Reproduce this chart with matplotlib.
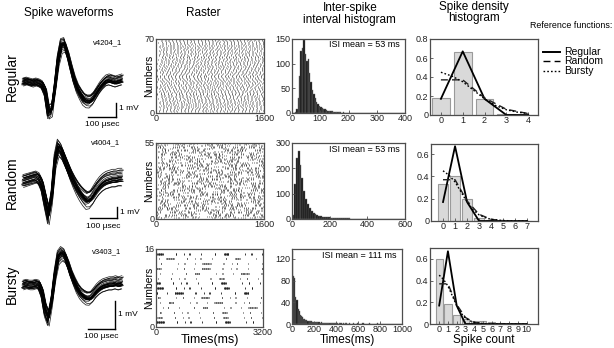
import numpy as np
import matplotlib
matplotlib.use('Agg')
import matplotlib.pyplot as plt

plt.rcParams['font.family'] = ['Liberation Sans', 'DejaVu Sans']

W, H = 614, 348

# ------------------------------------------------------------------ data
row_names = ['Regular', 'Random', 'Bursty']
unit_ids = ['v4204_1', 'v4004_1', 'v3403_1']

# mean spike waveform templates (32 samples, displacement in display units)
wave_regular = [0, 1, 0, -1, 0, -1, -3, -10, -30, -28, -5, 22, 37, 38, 28, 15,
                3, -6, -12, -17, -19, -19, -16, -11, -6, -2, 1, 2, 1, 0, 1, 2]
wave_random = [0, 1, 2, 3, 4, 2, -5, -20, -34, -15, 20, 34, 30, 22, 14, 6,
               -1, -7, -12, -16, -19, -18, -14, -9, -5, -2, 0, 1, 2, 2, 3, 3]
wave_bursty = [0, 1, 0, 0, 1, 0, -8, -25, -33, -15, 10, 28, 32, 30, 22, 12,
               4, -3, -8, -11, -13, -13, -10, -6, -3, -1, 0, 1, 1, 2, 1, 2]
# per-trace variability of the overlaid waveforms
trace_amp = [1.0, 0.92, 1.08, 0.97, 1.12, 0.88, 1.03, 0.95, 1.06, 0.90, 1.10, 0.99,
             0.94, 1.05, 0.86, 1.14, 1.01, 0.93, 1.07, 0.96, 1.09, 0.91, 1.04, 0.98, 1.02]
trace_off = [0, 2, -2, 1, -3, 3, -1, 2, -2, 4, -4, 1, -1, 3, -3, 0, 2, -2, 1, -1,
             3, -3, 0, 2, -2]
trace_tilt = [0, -3, 2, 4, -2, 1, -4, 3, 0, -1, 5, -3, 2, -5, 1, 3, -2, 4, -1, 0,
              -3, 2, 6, -4, 1]
trace_shift = [0, 0.2, -0.2, 0.3, -0.3, 0.1, -0.1, 0.4, -0.4, 0, 0.2, -0.2, 0.1,
               -0.1, 0.3, -0.3, 0, 0.15, -0.15, 0.25, -0.25, 0.05, -0.05, 0.35, -0.35]
row_spread = [1.0, 1.6, 1.2]

# raster: interval patterns (ms)
raster_rows = [70, 55, 15]
raster_ymax = [70, 55, 16]
raster_xmax = [1600, 1600, 3200]
isi_pattern_regular = [46, 58, 51, 63, 44, 55, 49, 60, 52, 47, 57, 41, 66, 50, 54,
                       48, 61, 45, 56, 53, 43, 59, 50, 64, 47, 52, 58, 49, 55, 62]
isi_pattern_random = [12, 25, 31, 8, 45, 150, 22, 35, 18, 60, 28, 95, 15, 33, 40,
                      210, 26, 19, 70, 30, 11, 48, 120, 24, 36, 55, 17, 29, 85, 21,
                      38, 14, 65, 27, 300, 32, 20, 42, 16, 75]
isi_pattern_bursty = [20, 15, 25, 18, 22, 16, 24, 19, 21, 17, 23, 20, 380, 12, 240,
                      150, 18, 330, 420, 14, 260, 22, 16, 19, 24, 18, 21, 17, 500,
                      190, 13, 310, 220]

# ISI histograms (counts)
isi_bin_width = [5, 10, 10]
isi_hist_regular = [0, 0, 2, 8, 30, 75, 125, 132, 148, 120, 105, 110, 82, 62, 47, 38,
                    30, 23, 18, 15, 12, 11, 9, 8, 6, 5, 5, 4, 4, 3, 3, 2, 3, 2, 2, 1,
                    2, 1, 1, 1, 1, 0, 1, 1, 0, 1, 0, 0, 1, 0, 1, 0, 0, 0, 1, 0, 0, 0,
                    0, 1, 0, 0, 0, 0, 0, 0, 1, 0, 0, 0, 0, 0, 0, 0, 0, 0, 0, 0, 0, 0]
isi_hist_random = [15, 140, 240, 270, 215, 160, 110, 80, 58, 42, 32, 25, 20, 16, 13,
                   11, 9, 8, 7, 6, 5, 5, 4, 4, 3, 3, 3, 2, 2, 2, 2, 1, 1, 1, 1, 1, 1,
                   0, 1, 0, 1, 0, 0, 1, 0, 0, 0, 1, 0, 0, 0, 0, 0, 0, 0, 0, 0, 0, 0, 0]
isi_hist_bursty = [135, 88, 85, 50, 45, 27, 24, 17, 14, 12, 10, 9, 8, 7, 6, 6, 5, 5,
                   4, 4, 4, 3, 3, 3, 3, 2, 3, 2, 2, 2, 2, 2, 1, 2, 1, 1, 1, 2, 1, 1,
                   1, 1, 0, 1, 1, 0, 1, 0, 1, 1, 0, 0, 1, 0, 0, 1, 0, 0, 0, 1, 0, 0,
                   0, 0, 1, 0, 0, 0, 0, 0, 1, 0, 0, 0, 0, 0, 0, 1, 0, 0, 0, 0, 0, 0,
                   0, 0, 0, 0, 0, 0, 0, 0, 0, 0, 0, 0, 0, 0, 0, 0]
isi_means = [53, 53, 111]
isi_xmax = [400, 600, 1000]
isi_xticks = [[0, 100, 200, 300, 400], [0, 200, 400, 600], [0, 200, 400, 600, 800, 1000]]
isi_ymax = [150, 300, 138]
isi_yticks = [[0, 50, 100, 150], [0, 100, 200, 300], [0, 40, 80, 120]]

# spike density histograms
density_regular = [0.18, 0.66, 0.17, 0.01, 0.005]
density_random = [0.33, 0.40, 0.20, 0.03, 0.01, 0.003, 0.001, 0.001]
density_bursty = [0.60, 0.18, 0.085, 0.05, 0.03, 0.025, 0.018, 0.005, 0.003, 0.002, 0.002]
density_ymax = [0.8, 0.69, 0.70]
density_yticks = [[0, 0.2, 0.4, 0.6, 0.8], [0, 0.2, 0.4, 0.6], [0, 0.2, 0.4, 0.6]]
density_xlim = [(-0.5, 4.45), (-1.0, 7.9), (-1.05, 11.3)]

# reference functions
ref_counts = [0, 1, 2, 3, 4, 5, 6, 7, 8, 9, 10]
ref_regular = [0.17, 0.67, 0.17, 0, 0, 0, 0, 0, 0, 0, 0]
ref_random = [0.37, 0.37, 0.18, 0.06, 0.015, 0.003, 0.0005, 0.0001, 0, 0, 0]
ref_bursty_x = [0, 0.5, 1, 1.5, 2, 2.5, 3, 3.5, 4, 5, 6, 7, 8, 9, 10]
ref_bursty = [0.45, 0.41, 0.35, 0.26, 0.17, 0.10, 0.055, 0.03, 0.015, 0.004, 0.001,
              0, 0, 0, 0]

# ------------------------------------------------------------------ figure
fig = plt.figure(figsize=(W / 100, H / 100), dpi=100)
ov = fig.add_axes([0, 0, 1, 1])
ov.set_xlim(0, W)
ov.set_ylim(H, 0)
ov.axis('off')

SP = '#4d4d4d'


def px_axes(l, t, r, b):
    return fig.add_axes([l / W, 1 - b / H, (r - l) / W, (b - t) / H])


def style(ax):
    for s in ax.spines.values():
        s.set_color(SP)
        s.set_linewidth(0.9)
    ax.tick_params(direction='in', length=2, width=0.6, color=SP, labelsize=6.5,
                   pad=1.0, labelcolor='#222222')


# titles
ov.text(69, 13, 'Spike waveforms', ha='center', va='center', fontsize=8.5)
ov.text(203, 13, 'Raster', ha='center', va='center', fontsize=8.5)
ov.text(350, 8, 'Inter-spike', ha='center', va='center', fontsize=8.5)
ov.text(349, 20.5, 'interval histogram', ha='center', va='center', fontsize=8.5)
ov.text(474, 7, 'Spike density', ha='center', va='center', fontsize=8.5)
ov.text(474, 18.5, 'histogram', ha='center', va='center', fontsize=8.5)

# legend
ov.text(612, 25, 'Reference functions:', ha='right', va='center', fontsize=6.4)
ov.plot([543, 560], [52, 52], color='black', lw=1.4, ls='-')
ov.plot([543, 560], [61, 61], color='black', lw=1.0, ls=(0, (5, 3)))
ov.plot([543, 560], [71, 71], color='black', lw=1.0, ls=(0, (1.2, 1.5)))
ov.text(564, 52, 'Regular', ha='left', va='center', fontsize=7.5)
ov.text(564, 61, 'Random', ha='left', va='center', fontsize=7.5)
ov.text(564, 71, 'Bursty', ha='left', va='center', fontsize=7.5)

# ------------------------------------------------------------------ waveforms
waves = [wave_regular, wave_random, wave_bursty]
base_y = [82, 181, 285]
label_y = [77, 183, 284]
id_pos = [(108, 43), (106, 143), (107, 252)]
vbar = [(116, 103, 117), (117, 207, 218), (115, 301, 329)]
hbar_x0 = [88, 90, 88]
mv_y = [108, 213, 315]
us_y = [125, 227, 336]
samples = np.arange(32)
late = np.clip((samples - 14) / 8.0, 0, 1)
for i in range(3):
    tmpl = np.array(waves[i], dtype=float)
    for a, o, s, tl in zip(trace_amp, trace_off, trace_shift, trace_tilt):
        xs = 23 + (samples + s) * (99 / 31)
        ys = base_y[i] - (tmpl * a + o * row_spread[i] + tl * late * row_spread[i])
        ov.plot(xs, ys, color='black', lw=0.55, alpha=0.85)
    ov.text(12, label_y[i], row_names[i], rotation=90, ha='center', va='center',
            fontsize=10)
    ov.text(id_pos[i][0], id_pos[i][1], unit_ids[i], ha='center', va='center',
            fontsize=5.5)
    vx, vt, vb = vbar[i]
    ov.plot([vx, vx], [vt, vb], color='black', lw=1.0)
    ov.plot([hbar_x0[i], vx], [vb, vb], color='black', lw=1.0)
    ov.text(vx + 3, mv_y[i], '1 mV', ha='left', va='center', fontsize=6)
    ov.text((hbar_x0[i] + vx) / 2, us_y[i], '100 µsec', ha='center', va='center',
            fontsize=6)

# ------------------------------------------------------------------ rasters
patterns = [isi_pattern_regular, isi_pattern_random, isi_pattern_bursty]
raster_box = [(156, 39, 264, 113), (156, 143, 264, 219), (156, 249, 263, 327)]
row_step = [7, 11, 5]


def trains_from(pattern, n_rows, xmax, kstep):
    out = []
    n = len(pattern)
    period = int(sum(pattern) / n * 2)
    for r in range(n_rows):
        k = (r * kstep) % n
        seq = pattern[k:] + pattern[:k]
        t = (r * r * 13 + r * 29) % period
        spikes = []
        j = 0
        while t < xmax:
            spikes.append(t)
            t += seq[j % n]
            j += 1
        out.append(spikes)
    return out


for i in range(3):
    ax = px_axes(*raster_box[i])
    style(ax)
    tr = trains_from(patterns[i], raster_rows[i], raster_xmax[i], row_step[i])
    ll = 1.0 if i < 2 else 0.3
    lw = 0.45 if i < 2 else 0.6
    ax.eventplot(tr, lineoffsets=np.arange(1, raster_rows[i] + 1), linelengths=ll,
                 linewidths=lw, colors='#1a1a1a')
    ax.set_xlim(0, raster_xmax[i])
    ax.set_ylim(0, raster_ymax[i])
    ax.set_xticks([0, raster_xmax[i]])
    ax.set_yticks([0, raster_ymax[i]])
    ax.set_xticklabels(['0', str(raster_xmax[i])])
    ax.set_yticklabels(['0', str(raster_ymax[i])])
    ax.tick_params(length=0)
    mid = (raster_box[i][1] + raster_box[i][3]) / 2
    ov.text(149, mid, 'Numbers', rotation=90, ha='center', va='center', fontsize=7.5)
ov.text(210, 340, 'Times(ms)', ha='center', va='center', fontsize=9)

# ------------------------------------------------------------------ ISI histograms
hists = [isi_hist_regular, isi_hist_random, isi_hist_bursty]
isi_box = [(292, 39, 405, 113), (292, 143, 405, 219), (292, 249, 402, 324)]
for i in range(3):
    ax = px_axes(*isi_box[i])
    style(ax)
    counts = np.array(hists[i], dtype=float)
    bw = isi_bin_width[i]
    edges = np.arange(len(counts)) * bw
    ax.bar(edges, counts, width=bw, align='edge', facecolor='#111111',
           edgecolor='#6e6e6e', linewidth=0.3)
    ax.set_xlim(0, isi_xmax[i])
    ax.set_ylim(0, isi_ymax[i])
    ax.set_xticks(isi_xticks[i])
    ax.set_yticks(isi_yticks[i])
    ax.text(0.95, 0.92, 'ISI mean = %d ms' % isi_means[i], transform=ax.transAxes,
            ha='right', va='center', fontsize=6.5)
ov.text(347, 339.5, 'Times(ms)', ha='center', va='center', fontsize=8.5)

# ------------------------------------------------------------------ density hists
dens = [density_regular, density_random, density_bursty]
dens_box = [(430, 39, 538, 115), (431, 144, 538, 221), (430, 248, 538, 324)]
for i in range(3):
    ax = px_axes(*dens_box[i])
    style(ax)
    d = dens[i]
    xs = np.arange(len(d))
    ax.bar(xs, d, width=0.82, facecolor='#d9d9d9', edgecolor='#9a9a9a', linewidth=0.8)
    n = len(d)
    ax.plot(ref_counts[:n], ref_regular[:n], color='black', lw=1.3, ls='-')
    ax.plot(ref_counts[:n], ref_random[:n], color='#222222', lw=1.0, ls=(0, (5, 3)))
    m = [k for k, v in enumerate(ref_bursty_x) if v <= n - 1]
    ax.plot([ref_bursty_x[k] for k in m], [ref_bursty[k] for k in m], color='black',
            lw=1.0, ls=(0, (1.2, 1.5)))
    ax.set_xlim(*density_xlim[i])
    ax.set_ylim(0, density_ymax[i])
    ax.set_xticks(xs)
    ax.set_yticks(density_yticks[i])
    ax.set_yticklabels(['0' if v == 0 else '%.1f' % v for v in density_yticks[i]])
ov.text(484, 340.5, 'Spike count', ha='center', va='center', fontsize=8.5)

fig.savefig('out.png', dpi=100)
